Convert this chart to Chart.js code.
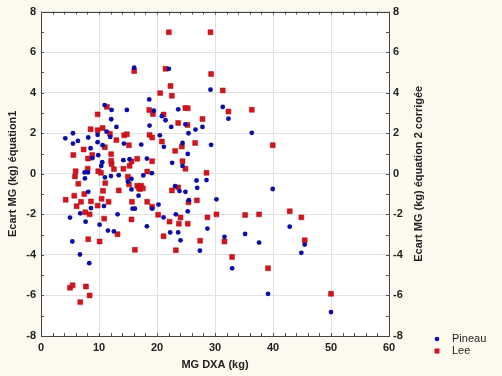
<!DOCTYPE html>
<html>
<head>
<meta charset="utf-8">
<script src="https://cdn.jsdelivr.net/npm/chart.js@4.4.1/dist/chart.umd.min.js"></script>
<style>
  html, body { margin: 0; padding: 0; background: #fcf9ee; }
  #wrap { width: 502px; height: 376px; position: relative; }
</style>
</head>
<body>
<div id="wrap"><canvas id="chart"></canvas></div>
<script>
// Pineau (blue circles)
const pineauX = [4.19, 5.0, 5.51, 5.51, 5.4, 6.37, 6.77, 6.72, 7.52, 7.58, 7.69, 8.15, 8.09, 8.15, 8.32, 8.55, 8.61, 8.84,
  9.76, 9.76, 9.87, 10.1, 10.39, 10.56, 10.62, 10.85, 10.96, 11.02, 11.31, 11.54, 11.94, 12.1, 12.17, 12.06, 12.57, 13.0,
  13.2, 13.4, 14.2, 14.3, 14.8, 14.98, 15.27, 15.6, 15.6, 15.79, 16.19, 16.07, 16.82, 17.28, 17.63, 18.26, 18.26, 18.66,
  18.71, 19.12, 19.17, 19.46, 20.26, 20.49, 20.84, 21.13, 21.18, 21.47, 22.04, 22.27, 22.45, 22.62, 23.13, 23.25, 23.65,
  23.65, 23.88, 24.05, 24.4, 24.4, 24.9, 25.3, 25.43, 25.3, 24.9, 25.49, 26.64, 26.81, 26.93, 27.39, 27.84, 28.53, 28.7,
  29.22, 29.33, 30.25, 31.34, 31.63, 32.32, 32.95, 35.19, 36.34, 37.6, 39.15, 39.95, 42.88, 44.89, 45.47, 50.0];
const pineauY = [1.75, -2.16, 2.0, 1.49, -3.34, 1.62, -1.95, -3.98, 0.07, -0.23, -2.36, 1.79, 0.07, -0.89, -4.41, 1.26, -1.69, 0.77,
  1.56, 1.92, 0.92, -2.51, 0.39, 0.57, 1.41, -1.59, 3.39, -0.18, 2.08, -2.8, 1.82, 2.69, 3.15, -0.11, -2.84, 2.31,
  -2.0, -0.07, 0.67, 1.49, 3.15, -0.38, 0.72, -0.77, -0.25, -1.72, -1.72, 5.23, -1.08, 1.44, -0.08, -2.59, 0.75, 3.67,
  2.38, 0.03, -1.72, 3.11, -1.52, 1.9, 2.84, -2.15, 1.33, 2.64, 5.18, -2.89, 2.31, 0.54, -0.61, -2.0, 3.18,
  -2.89, -0.85, -3.28, 1.52, 0.39, -0.89, 0.98, 2.0, -1.85, 2.44, -1.3, 2.18, -0.33, -0.69, -3.79, 2.31, -0.31, -2.7,
  4.15, 1.43, -1.26, 3.3, -3.11, 2.72, -4.66, -2.97, 2.02, -3.39, -5.92, -0.75, -2.61, -3.9, -3.49, -6.82];

// Lee (red squares)
const leeX = [4.25, 5.0, 5.45, 5.57, 5.74, 5.97, 5.86, 6.14, 6.43, 6.77, 6.89, 7.35, 7.46, 7.63, 7.75, 8.04, 8.15, 8.1, 8.38,
  8.38, 8.55, 8.61, 8.84, 9.76, 9.76, 9.76, 9.87, 10.1, 10.33, 10.45, 10.62, 10.68, 10.9, 11.0, 11.08, 11.37, 11.65,
  11.88, 12.1, 12.17, 12.1, 12.57, 13.0, 13.2, 13.4, 14.2, 14.35, 14.8, 14.98, 15.16, 15.16, 15.27, 15.6, 15.6, 15.67,
  16.07, 16.19, 16.59, 16.59, 16.88, 17.05, 17.28, 17.57, 18.31, 18.31, 18.66, 18.71, 19.17, 19.17, 19.17, 19.29, 20.2,
  20.55, 20.84, 21.13, 21.13, 21.47, 22.04, 22.16, 22.33, 22.56, 22.56, 23.13, 23.25, 23.65, 23.65, 23.77, 24.05, 24.28,
  24.4, 24.9, 24.9, 25.26, 25.3, 25.43, 25.3, 26.58, 26.87, 27.44, 27.84, 28.53, 28.7, 29.22, 29.33, 30.25, 31.34, 31.63,
  32.32, 32.95, 35.19, 36.34, 37.6, 39.15, 39.95, 42.88, 44.89, 45.47, 50.0];
const leeY = [-1.28, -5.62, -5.5, 0.93, -1.08, 0.13, -0.13, -1.6, -0.49, -6.33, -1.38, 1.2, -1.0, -1.9, -5.56, 0.25, -3.23, 0.75, -2.0,
  -6.0, 2.2, -1.36, 0.93, 2.93, 2.15, -1.57, 0.13, -3.34, 0.05, -1.23, 2.26, -0.84, -2.21, 1.31, -0.46, 3.3, -1.38,
  1.98, 0.97, 0.48, 0.64, 0.23, 1.66, -2.98, -0.82, 0.25, 1.9, 1.95, -0.15, -0.52, 1.41, 0.39, 0.61, -2.25, -1.38,
  5.07, -3.75, 0.74, -0.59, -0.7, -0.75, -0.59, -0.72, 0.11, -1.38, 3.15, 1.92, 1.79, 0.62, -1.62, 2.95, -2.02,
  3.98, 1.59, 2.92, -3.08, 5.18, 6.98, -2.36, 4.33, 3.85, -0.82, 1.13, -3.77, 2.51, -0.67, -2.46, -2.16, 1.34,
  0.62, 3.25, 0.25, 2.41, 3.23, -1.41, -2.46, 1.52, -1.31, -3.3, 2.7, 0.05, -2.15, 6.98, 4.92, -2.0, 4.11, -3.34,
  3.07, -4.1, -2.03, 3.16, -2.0, -4.66, 1.41, -1.85, -2.15, -3.28, -5.92];

const seriesNames = ['Pineau', 'Lee'];
const rightTitle = 'Ecart MG (kg) équation 2 corrigée';
const blue = '#0c0ca6';
const red = '#d5141c';
const tickFont = { family: 'Liberation Sans', size: 11, weight: 'bold' };

function toPoints(xs, ys) {
  return xs.map((x, i) => ({ x: x, y: ys[i] }));
}

// white plot area + minor ticks along the frame + right title (reads bottom-to-top)
const frame = {
  id: 'frame',
  beforeDraw(chart) {
    const a = chart.chartArea, ctx = chart.ctx;
    ctx.save();
    ctx.fillStyle = '#ffffff';
    ctx.fillRect(a.left, a.top, a.right - a.left, a.bottom - a.top);
    ctx.restore();
  },
  afterDatasetsDraw(chart) {
    const a = chart.chartArea, ctx = chart.ctx;
    const xs = chart.scales.x, ys = chart.scales.y;
    ctx.save();
    ctx.strokeStyle = '#555555';
    ctx.lineWidth = 1;
    ctx.beginPath();
    for (let v = 0; v <= 60; v += 2) {
      const px = Math.round(xs.getPixelForValue(v)) + 0.5;
      ctx.moveTo(px, a.bottom); ctx.lineTo(px, a.bottom - 3);
      ctx.moveTo(px, a.top); ctx.lineTo(px, a.top + 3);
    }
    for (let v = -8; v <= 8; v += 1) {
      const py = Math.round(ys.getPixelForValue(v)) + 0.5;
      ctx.moveTo(a.left, py); ctx.lineTo(a.left + 3, py);
      ctx.moveTo(a.right, py); ctx.lineTo(a.right - 3, py);
    }
    ctx.stroke();
    ctx.strokeStyle = '#444444';
    ctx.strokeRect(Math.round(a.left) + 0.5, Math.round(a.top) + 0.5,
      Math.round(a.right - a.left), Math.round(a.bottom - a.top));

    ctx.translate(a.right + 30, (a.top + a.bottom) / 2);
    ctx.rotate(-Math.PI / 2);
    ctx.font = 'bold 11px "Liberation Sans"';
    ctx.fillStyle = '#222';
    ctx.textAlign = 'center';
    ctx.textBaseline = 'middle';
    ctx.fillText(rightTitle, 0, 0);
    ctx.restore();
  }
};

// legend placed at the bottom right, outside the plot
const sideLegend = {
  id: 'sideLegend',
  afterDraw(chart) {
    const ctx = chart.ctx;
    const x0 = 437, y0 = 339, gap = 12;
    ctx.save();
    ctx.font = '11px "Liberation Sans"';
    ctx.textBaseline = 'middle';
    chart.data.datasets.forEach((ds, i) => {
      const y = y0 + i * gap;
      ctx.fillStyle = ds.backgroundColor;
      if (ds.pointStyle === 'rect') {
        ctx.fillRect(x0 - 2.5, y - 2.5, 5, 5);
      } else {
        ctx.beginPath(); ctx.arc(x0, y, 2.3, 0, Math.PI * 2); ctx.fill();
      }
      ctx.fillStyle = '#222222';
      ctx.fillText(ds.label, x0 + 15, y);
    });
    ctx.restore();
  }
};

new Chart(document.getElementById('chart'), {
  type: 'scatter',
  data: {
    datasets: [
      {
        label: seriesNames[0],
        data: toPoints(pineauX, pineauY),
        pointStyle: 'circle',
        pointRadius: 2.4,
        backgroundColor: blue,
        borderColor: blue,
        borderWidth: 0
      },
      {
        label: seriesNames[1],
        data: toPoints(leeX, leeY),
        pointStyle: 'rect',
        pointRadius: 3.5,
        backgroundColor: red,
        borderColor: '#a80e14',
        borderWidth: 0.5
      }
    ]
  },
  options: {
    responsive: true,
    maintainAspectRatio: false,
    animation: false,
    layout: { padding: { top: 10, right: 77, bottom: 4, left: 0 } },
    plugins: {
      legend: { display: false },
      tooltip: { enabled: false }
    },
    scales: {
      x: {
        type: 'linear',
        min: 0, max: 60,
        border: { display: false },
        grid: { color: '#e2e2e2', drawTicks: false },
        ticks: { stepSize: 10, padding: 5, color: '#222', font: tickFont },
        title: { display: true, text: 'MG DXA (kg)', color: '#222', font: tickFont, padding: { top: 4, bottom: 0 } },
        afterFit(s) { s.height = 36; }
      },
      y: {
        min: -8, max: 8,
        border: { display: false },
        grid: { color: '#e2e2e2', drawTicks: false },
        ticks: { stepSize: 2, padding: 5, color: '#222', font: tickFont },
        title: { display: true, text: 'Ecart MG (kg) équation1', color: '#222', font: tickFont, padding: { top: 6, bottom: 0 } },
        afterFit(s) { s.width = 41; }
      },
      y2: {
        position: 'right',
        min: -8, max: 8,
        border: { display: false },
        grid: { drawOnChartArea: false, drawTicks: false },
        ticks: { stepSize: 2, padding: 4, color: '#222', font: tickFont },
        afterFit(s) { s.width = 36; }
      }
    }
  },
  plugins: [frame, sideLegend]
});
</script>
</body>
</html>
